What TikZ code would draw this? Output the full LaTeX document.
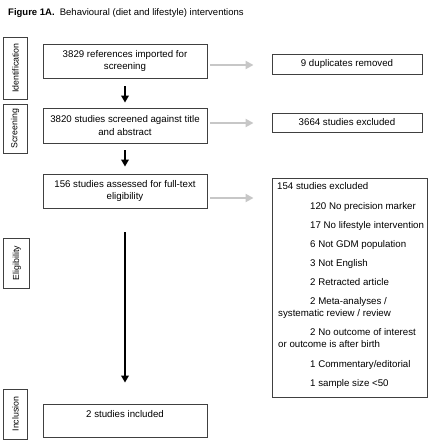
\documentclass[tikz,border=0pt]{standalone}
\usepackage{fontspec}
\setmainfont{Liberation Sans}
\usetikzlibrary{arrows.meta}
\begin{document}
\begin{tikzpicture}[x=1pt,y=1pt,
  every node/.style={font=\fontsize{9.7}{12.5}\selectfont},
  flowbox/.style={draw=black!75, line width=0.9pt, inner sep=0pt, align=center, minimum width=164pt},
  sidebox/.style={draw=black!75, line width=0.9pt, inner sep=0pt, rotate=90, font=\fontsize{8.8}{10}\selectfont},
  exline/.style={anchor=west, inner sep=0pt, text height=7pt, text depth=2pt},
  downarrow/.style={line width=2pt, black, -{Triangle[width=7.5pt,length=7pt]}},
  sidearrow/.style={line width=2.6pt, black!22, -{Triangle[width=8pt,length=8pt]}}
]
\useasboundingbox (0,0) rectangle (432,-440);

% title
\node[anchor=west, inner sep=0pt, font=\fontsize{9.5}{11}\selectfont] (title) at (8,-13)
  {\textbf{Figure 1A.}\hspace{0.55em}Behavioural (diet and lifestyle) interventions};

% side labels
\node[sidebox, minimum width=62pt, minimum height=23.5pt] (sid) at (15.5,-68) {Identification};
\node[sidebox, minimum width=49pt, minimum height=24pt] (sscr) at (15.2,-128.5) {Screening};
\node[sidebox, minimum width=50pt, minimum height=26pt] (selig) at (16.8,-263) {Eligibility};
\node[sidebox, minimum width=50pt, minimum height=23.5pt] (sincl) at (15.5,-414) {Inclusion};

% main flow boxes
\node[flowbox, minimum height=34pt] (b1) at (125,-61) {3829 references imported for\\screening};
\node[flowbox, minimum height=35pt] (b2) at (125,-125.5) {3820 studies screened against title\\and abstract};
\node[flowbox, minimum height=34pt] (b3) at (125,-191) {156 studies assessed for full-text\\eligibility};
\node[flowbox, minimum height=33pt] (b4) at (125,-420.5) {};
\node[inner sep=0pt] (b4t) at (125,-414) {2 studies included};

% right boxes
\node[flowbox, minimum width=150pt, minimum height=20pt] (dup) at (347,-64) {9 duplicates removed};
\node[flowbox, minimum width=150pt, minimum height=19pt] (ex1) at (347,-122.5) {3664 studies excluded};
\node[flowbox, minimum width=155pt, minimum height=219pt] (ex2) at (349.5,-287.5) {};

\node[exline] (l0) at (277,-187) {154 studies excluded};
\node[exline] (l1) at (310,-207) {120 No precision marker};
\node[exline] (l2) at (310,-226) {17 No lifestyle intervention};
\node[exline] (l3) at (310,-245) {6 Not GDM population};
\node[exline] (l4) at (310,-264) {3 Not English};
\node[exline] (l5) at (310,-283) {2 Retracted article};
\node[exline] (l6a) at (310,-302) {2 Meta-analyses /};
\node[exline] (l6b) at (278,-314) {systematic review / review};
\node[exline] (l7a) at (310,-333) {2 No outcome of interest};
\node[exline] (l7b) at (278,-345) {or outcome is after birth};
\node[exline] (l8) at (310,-365) {1 Commentary/editorial};
\node[exline] (l9) at (310,-384) {1 sample size <50};

% vertical arrows
\draw[downarrow, shorten <=8pt, shorten >=5pt] (b1.south) -- (b2.north);
\draw[downarrow, shorten <=7pt, shorten >=7pt] (b2.south) -- (b3.north);
\draw[downarrow, shorten <=24pt, shorten >=21pt] (b3.south) -- (b4.north);

% grey side arrows
\draw[sidearrow, shorten <=3pt, shorten >=18pt] (b1.east |- 0,-65) -- (dup.west |- 0,-65);
\draw[sidearrow, shorten <=3pt, shorten >=18pt] (b2.east |- 0,-123) -- (ex1.west |- 0,-123);
\draw[sidearrow, shorten <=3pt, shorten >=18pt] (b3.east |- 0,-198) -- (ex2.west |- 0,-198);
\end{tikzpicture}
\end{document}
